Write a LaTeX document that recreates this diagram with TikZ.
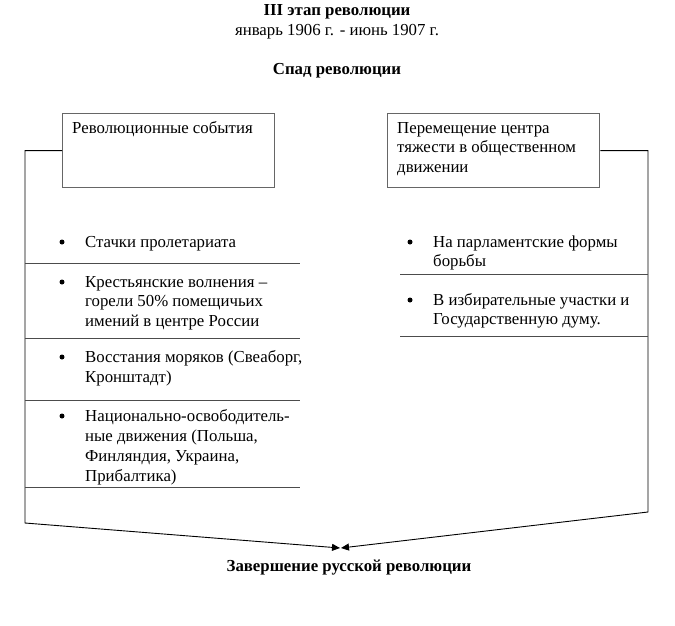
\documentclass[tikz,border=0pt]{standalone}
\usepackage{fontspec}
\setmainfont{Liberation Serif}
\usetikzlibrary{arrows.meta}
\newcommand{\mylines}[1]{\parbox[t]{300pt}{\fontsize{16.8}{19.5}\selectfont\raggedright #1}}
\begin{document}
\begin{tikzpicture}[x=1pt,y=-1pt,
  txt/.style={anchor=base west,inner sep=0,font=\fontsize{16.8}{19.5}\selectfont},
  ttl/.style={anchor=base,inner sep=0,font=\fontsize{16.8}{19.5}\selectfont},
  boxst/.style={draw=black!60,line width=1.3pt,anchor=north west,inner sep=0,minimum width=212pt,minimum height=74pt},
  sep/.style={draw=black!70,line width=1pt},
  conn/.style={draw=black,line width=0.9pt},
  bul/.style={circle,fill=black,inner sep=0,minimum size=5pt},
  tip/.style={-{Triangle[length=8pt,width=7pt]}}]
\useasboundingbox (0,0) rectangle (675,625);
% titles
\node[ttl,font=\fontsize{16.8}{19.5}\selectfont\bfseries] (t1) at (337,15) {III этап революции};
\node[ttl] (t2) at (337,35) {январь 1906 г. - июнь 1907 г.};
\node[ttl,font=\fontsize{16.8}{19.5}\selectfont\bfseries] (t3) at (337,74) {Спад революции};
\node[ttl,font=\fontsize{16.8}{19.5}\selectfont\bfseries] (t4) at (349,571) {Завершение русской революции};
% boxes
\node[boxst] (lbox) at (62,113) {};
\node[txt] (lboxt) at (72,133) {Революционные события};
\node[boxst] (rbox) at (387,113) {};
\node[txt] (rboxt) at (397,133) {\mylines{Перемещение центра\\тяжести в общественном\\движении}};
% connectors
\coordinate (lcorner) at (25,523);
\coordinate (rcorner) at (648,512);
\coordinate (ltip) at (340,548);
\coordinate (rtip) at (341,548);
\draw[conn,tip] (lbox.west) -| (lcorner) -- (ltip);
\draw[conn,tip] (rbox.east) -| (rcorner) -- (rtip);
% left list
\coordinate (ls1a) at (25,263); \coordinate (ls1b) at (300,263);
\coordinate (ls2a) at (25,338); \coordinate (ls2b) at (300,338);
\coordinate (ls3a) at (25,400); \coordinate (ls3b) at (300,400);
\coordinate (ls4a) at (25,487); \coordinate (ls4b) at (300,487);
\draw[sep] (ls1a) -- (ls1b);
\draw[sep] (ls2a) -- (ls2b);
\draw[sep] (ls3a) -- (ls3b);
\draw[sep] (ls4a) -- (ls4b);
\node[bul] (lb1) at (62,242) {};
\node[txt] (li1) at (85,247) {Стачки пролетариата};
\node[bul] (lb2) at (62,282) {};
\node[txt] (li2) at (85,287) {\mylines{Крестьянские волнения –\\горели 50\% помещичьих\\имений в центре России}};
\node[bul] (lb3) at (62,357) {};
\node[txt] (li3) at (85,362) {\mylines{Восстания моряков (Свеаборг,\\[1pt]Кронштадт)}};
\node[bul] (lb4) at (62,416) {};
\node[txt] (li4) at (85,421) {\mylines{Национально-освободитель-\\[0.5pt]ные движения (Польша,\\[0.5pt]Финляндия, Украина,\\[0.5pt]Прибалтика)}};
% right list
\coordinate (rs1a) at (400,274); \coordinate (rs1b) at (648,274);
\coordinate (rs2a) at (400,336); \coordinate (rs2b) at (648,336);
\draw[sep] (rs1a) -- (rs1b);
\draw[sep] (rs2a) -- (rs2b);
\node[bul] (rb1) at (410,242) {};
\node[txt] (ri1) at (433,247) {\mylines{На парламентские формы\\борьбы}};
\node[bul] (rb2) at (410,300) {};
\node[txt] (ri2) at (433,305) {\mylines{В избирательные участки и\\Государственную думу.}};
\end{tikzpicture}
\end{document}
